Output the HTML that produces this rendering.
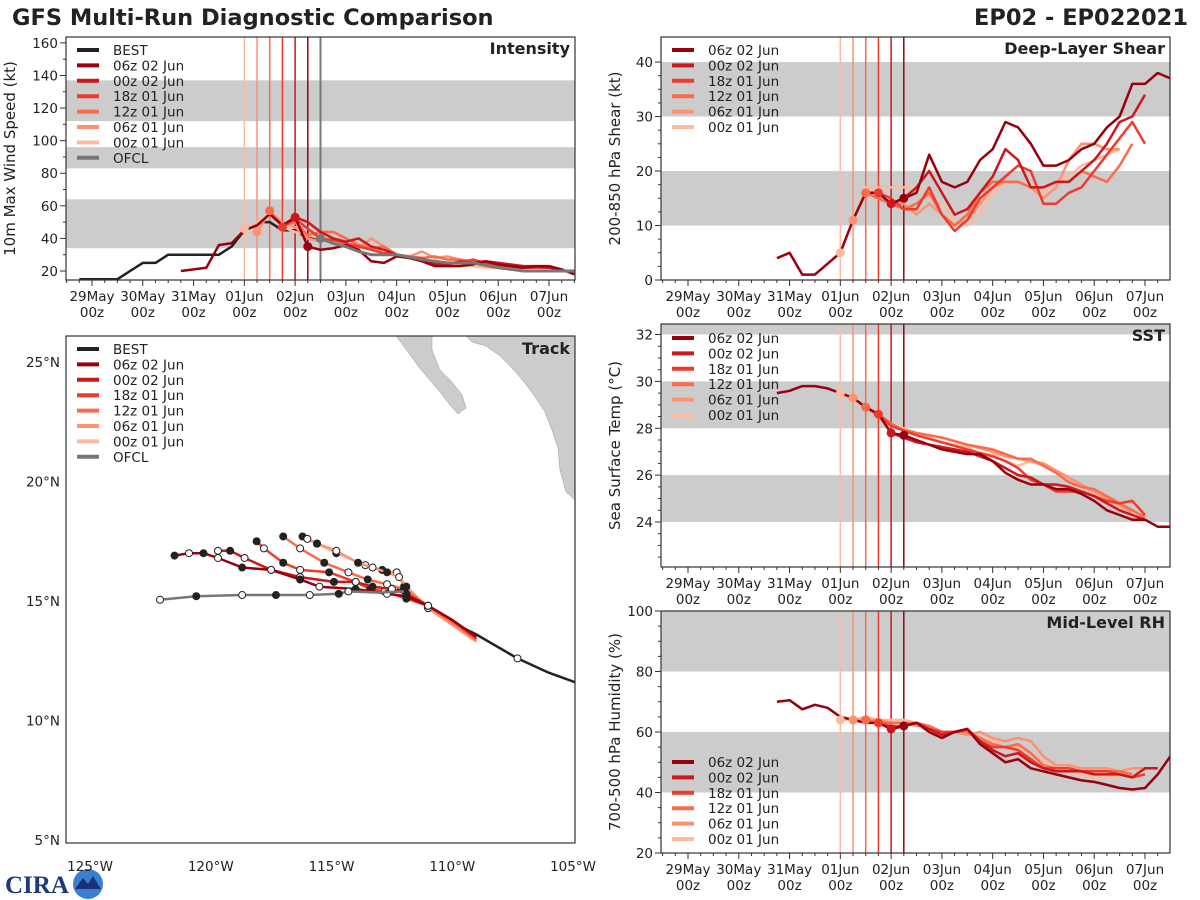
<!DOCTYPE html>
<html><head><meta charset="utf-8">
<style>
html,body{margin:0;padding:0;background:#fff;}
svg{display:block;font-family:"DejaVu Sans","Liberation Sans",sans-serif;}
</style></head>
<body>
<svg id="fig" width="1200" height="900" viewBox="0 0 1200 900" xmlns="http://www.w3.org/2000/svg">
<text x="12" y="25" font-size="22.5" font-weight="bold" fill="#222">GFS Multi-Run Diagnostic Comparison</text>
<text x="1188" y="25" font-size="22.5" font-weight="bold" fill="#222" text-anchor="end">EP02 - EP022021</text>
<g>
<text x="5" y="893" font-size="25" font-weight="bold" fill="#1c3a7a" font-family="Liberation Serif, serif">CIRA</text>
<circle cx="88" cy="884" r="15" fill="#3a7fd0"/>
<path d="M75 889 L83 878 L88 884 L93 876 L101 889 Z" fill="#1c2f7a"/>
</g>
</svg>
<script>
const runNames = ["06z 02 Jun","00z 02 Jun","18z 01 Jun","12z 01 Jun","06z 01 Jun","00z 01 Jun"];
const runColors = ["#99000d","#cb181d","#ef3b2c","#fb6a4a","#fc9272","#fcbba1"];
const runInitHours = [102,96,90,84,78,72];
const ofclInitHour = 108;
const dayLabels = ["29May","30May","31May","01Jun","02Jun","03Jun","04Jun","05Jun","06Jun","07Jun"];

const intBest = [[-6,15],[0,15],[6,15],[12,15],[18,20],[24,25],[30,25],[36,30],[42,30],[48,30],[54,30],[60,30],[66,35],[72,45],[78,50],[84,50],[90,45],[96,45],[102,40],[108,40]];
const intOfcl = [[108,40],[114,37],[120,35],[126,32],[132,30],[144,30],[156,27],[168,25],[180,25],[192,22],[204,20],[216,20],[228,20]];
const intRun0 = [[42,20],[54,22],[60,36],[66,37],[72,45],[78,48],[84,55],[90,48],[96,53],[102,35],[108,33],[114,34],[120,36],[126,33],[132,26],[138,25],[144,29],[150,28],[156,26],[162,23],[168,23],[174,23],[180,24],[186,26],[192,24],[198,23],[204,22],[210,23],[216,23],[222,21],[228,18]];
const intRun1 = [[96,53],[102,50],[108,44],[114,40],[120,38],[126,40],[132,35],[138,33],[144,30],[150,28],[156,27],[162,24],[168,24],[174,26],[180,25],[186,26],[192,25],[198,24],[204,23],[210,23],[216,22],[222,21]];
const intRun2 = [[90,47],[96,52],[102,46],[108,40],[114,39],[120,37],[126,35],[132,33],[138,31],[144,30],[150,28],[156,28],[162,25],[168,25],[174,25],[180,27],[186,25],[192,24],[198,23],[204,22],[210,22],[216,22]];
const intRun3 = [[84,57],[90,48],[96,50],[102,42],[108,44],[114,44],[120,40],[126,36],[132,34],[138,35],[144,30],[150,29],[156,28],[162,29],[168,27],[174,27],[180,26],[186,24],[192,23],[198,23],[204,22],[210,22]];
const intRun4 = [[78,44],[84,56],[90,50],[96,47],[102,40],[108,38],[114,40],[120,37],[126,34],[132,40],[138,35],[144,30],[150,29],[156,32],[162,28],[168,29],[174,27],[180,25],[186,24],[192,24],[198,22],[204,21]];
const intRun5 = [[72,46],[78,50],[84,55],[90,47],[96,44],[102,42],[108,40],[114,38],[120,37],[126,36],[132,33],[138,31],[144,30],[150,28],[156,26],[162,26],[168,24],[174,24],[180,23],[186,22],[192,22],[198,22]];

const shrRun0 = [[42,4],[48,5],[54,1],[60,1],[66,3],[72,5],[78,11],[84,16],[90,16],[96,14],[102,15],[108,16],[114,23],[120,18],[126,17],[132,18],[138,22],[144,24],[150,29],[156,28],[162,25],[168,21],[174,21],[180,22],[186,24],[192,25],[198,28],[204,30],[210,36],[216,36],[222,38],[228,37]];
const shrRun1 = [[96,14],[102,15],[108,17],[114,20],[120,16],[126,12],[132,13],[138,16],[144,19],[150,24],[156,22],[162,17],[168,17],[174,18],[180,18],[186,20],[192,22],[198,25],[204,29],[210,30],[216,34]];
const shrRun2 = [[90,16],[96,15],[102,13],[108,13],[114,17],[120,12],[126,9],[132,11],[138,15],[144,17],[150,19],[156,21],[162,20],[168,14],[174,14],[180,16],[186,17],[192,20],[198,23],[204,26],[210,29],[216,25]];
const shrRun3 = [[84,16],[90,15],[96,14],[102,13],[108,14],[114,16],[120,12],[126,10],[132,12],[138,16],[144,18],[150,18],[156,18],[162,17],[168,17],[174,18],[180,18],[186,20],[192,19],[198,18],[204,21],[210,25]];
const shrRun4 = [[78,11],[84,16],[90,15],[96,14],[102,14],[108,12],[114,14],[120,12],[126,10],[132,11],[138,14],[144,17],[150,18],[156,18],[162,17],[168,15],[174,17],[180,22],[186,25],[192,25],[198,24],[204,24]];
const shrRun5 = [[72,5],[78,11],[84,17],[90,17],[96,17],[102,17],[108,17],[114,15],[120,14],[126,11],[132,10],[138,12],[144,16],[150,18],[156,18],[162,17],[168,16],[174,18],[180,19],[186,21],[192,22],[198,23],[204,24]];

const sstRun0 = [[42,29.5],[48,29.6],[54,29.8],[60,29.8],[66,29.7],[72,29.5],[78,29.3],[84,28.9],[90,28.6],[96,27.8],[102,27.7],[108,27.5],[120,27.1],[132,26.9],[138,26.9],[144,26.6],[150,26.1],[156,25.8],[162,25.6],[168,25.6],[174,25.4],[180,25.4],[186,25.2],[192,24.9],[198,24.5],[204,24.3],[210,24.1],[216,24.1],[222,23.8],[228,23.8]];
const sstRun1 = [[96,27.8],[102,27.6],[108,27.4],[120,27.2],[132,27.0],[144,26.6],[150,26.3],[156,26.0],[162,25.9],[168,25.6],[174,25.6],[180,25.5],[186,25.3],[192,25.1],[198,24.8],[204,24.5],[210,24.3],[216,24.1]];
const sstRun2 = [[90,28.6],[96,28.1],[102,27.9],[108,27.7],[120,27.4],[132,27.1],[144,26.8],[150,26.6],[156,26.3],[162,25.8],[168,25.6],[174,25.3],[180,25.3],[186,25.3],[192,25.1],[198,24.9],[204,24.8],[210,24.9],[216,24.3]];
const sstRun3 = [[84,28.9],[90,28.6],[96,28.2],[102,27.9],[108,27.8],[120,27.6],[132,27.3],[144,27.1],[150,26.9],[156,26.7],[162,26.7],[168,26.4],[174,26.1],[180,25.7],[186,25.5],[192,25.4],[198,25.1],[204,24.8],[210,24.5],[216,24.2]];
const sstRun4 = [[78,29.3],[84,28.9],[90,28.5],[96,28.1],[108,27.8],[120,27.6],[132,27.3],[144,27.0],[150,26.8],[156,26.7],[162,26.6],[168,26.5],[174,26.2],[180,25.9],[186,25.6],[192,25.3],[198,25.0],[204,24.7],[210,24.4]];
const sstRun5 = [[72,29.5],[78,29.3],[84,28.9],[90,28.5],[96,28.2],[108,27.8],[120,27.4],[132,27.2],[138,26.9],[144,26.9],[150,26.6],[156,26.4],[162,26.6],[168,26.4],[174,26.1],[180,25.8],[186,25.5],[192,25.2],[198,24.9],[204,24.7]];

const rhRun0 = [[42,70],[48,70.5],[54,67.5],[60,69],[66,68],[72,65],[78,64],[84,63],[90,63],[96,61],[102,62],[108,63],[114,60],[120,58],[126,60],[132,61],[138,56],[144,53],[150,50],[156,51],[162,48],[168,47],[174,46],[180,45],[186,44],[192,43.5],[198,42.5],[204,41.5],[210,41],[216,41.5],[222,46],[228,52]];
const rhRun1 = [[96,61],[102,62],[108,63],[114,61],[120,59],[126,60],[132,61],[138,57],[144,54],[150,52],[156,53],[162,50],[168,48],[174,47],[180,47],[186,47],[192,46],[198,46],[204,46],[210,45],[216,48],[222,48]];
const rhRun2 = [[90,63],[96,62],[102,62],[108,63],[114,61],[120,60],[126,60],[132,61],[138,57],[144,55],[150,55],[156,54],[162,51],[168,48],[174,48],[180,48],[186,47],[192,47],[198,47],[204,46],[210,45],[216,46]];
const rhRun3 = [[84,64],[90,63],[96,63],[102,63],[108,63],[114,62],[120,60],[126,60],[132,60],[138,58],[144,56],[150,55],[156,56],[162,53],[168,49],[174,48],[180,48],[186,47],[192,47],[198,47],[204,47],[210,46]];
const rhRun4 = [[78,64],[84,64],[90,64],[96,63],[102,63],[108,62],[114,62],[120,60],[126,60],[132,59],[138,60],[144,58],[150,57],[156,58],[162,57],[168,52],[174,49],[180,49],[186,48],[192,48],[198,48],[204,47],[210,48],[216,48]];
const rhRun5 = [[72,64],[78,64],[84,65],[90,64],[96,64],[102,64],[108,63],[114,62],[120,60],[126,60],[132,60],[138,58],[144,57],[150,55],[156,55],[162,53],[168,50],[174,48],[180,47],[186,46],[192,45],[198,45],[204,45]];

const trkBest = [[-112.3,15.5],[-111.8,15.2],[-111.2,14.9],[-110.5,14.5],[-110.0,14.1],[-109.0,13.6],[-107.3,12.6],[-106.0,12.0],[-104.9,11.6]];
const trkOfcl = [[-112.0,15.4],[-113.0,15.35],[-114.3,15.4],[-114.7,15.3],[-115.9,15.25],[-117.3,15.25],[-118.7,15.25],[-120.6,15.2],[-122.1,15.05]];
const trkRun0 = [[-109.0,13.5],[-110.0,14.2],[-111.0,14.8],[-111.9,15.2],[-112.7,15.3],[-114.0,15.5],[-115.5,15.6],[-116.3,15.9],[-117.5,16.3],[-118.7,16.4],[-119.7,16.8],[-120.3,17.0],[-120.9,17.0],[-121.5,16.9]];
const trkRun1 = [[-109.0,13.5],[-110.0,14.2],[-111.0,14.8],[-111.9,15.3],[-112.5,15.5],[-113.3,15.6],[-114.0,15.8],[-114.9,15.8],[-116.3,16.0],[-117.5,16.3],[-118.6,16.8],[-119.2,17.1],[-119.7,17.1]];
const trkRun2 = [[-109.0,13.4],[-110.0,14.2],[-111.0,14.8],[-111.9,15.1],[-112.8,15.4],[-113.4,15.5],[-114.0,15.8],[-115.1,16.2],[-116.3,16.3],[-117.0,16.6],[-117.8,17.2],[-118.1,17.5]];
const trkRun3 = [[-109.0,13.4],[-110.0,14.1],[-111.0,14.8],[-112.0,15.5],[-112.7,15.7],[-113.5,15.9],[-114.3,16.2],[-115.3,16.6],[-116.3,17.2],[-117.0,17.7]];
const trkRun4 = [[-109.0,13.3],[-110.0,14.0],[-111.0,14.7],[-111.9,15.6],[-112.2,16.0],[-112.7,16.2],[-113.3,16.4],[-113.9,16.6],[-114.8,17.1],[-115.6,17.4],[-116.0,17.6]];
const trkRun5 = [[-109.0,13.3],[-110.0,14.0],[-111.0,14.7],[-112.0,15.6],[-112.3,16.2],[-112.9,16.3],[-113.6,16.5],[-114.8,17.0],[-115.6,17.4],[-116.2,17.7]];

const NS = "http://www.w3.org/2000/svg";
const svg = document.getElementById("fig");
function mk(tag, attrs, parent){
  const e = document.createElementNS(NS, tag);
  for (const k in attrs) e.setAttribute(k, attrs[k]);
  (parent||svg).appendChild(e);
  return e;
}
function txt(str, x, y, size, anchor, parent, extra){
  const t = mk("text", Object.assign({x:x, y:y, "font-size":size, "text-anchor":anchor||"start", fill:"#222"}, extra||{}), parent);
  t.textContent = str;
  return t;
}

function makePanel(cfg){
  const g = mk("g", {});
  
  
  const xs = h => cfg.x0 + h * 457 / 216;
  const ys = v => cfg.B - (v - cfg.ymin) / (cfg.ymax - cfg.ymin) * (cfg.B - cfg.T);
  const clip = mk("clipPath", {id: cfg.name + "-clip"}, g);
  mk("rect", {x:cfg.L, y:cfg.T, width:cfg.R-cfg.L, height:cfg.B-cfg.T}, clip);
  const plot = mk("g", {"clip-path": "url(#" + cfg.name + "-clip)"}, g);
  cfg.bands.forEach(b => {
    const r = mk("rect", {x:cfg.L, y:ys(b[1]), width:cfg.R-cfg.L, height:ys(b[0])-ys(b[1]), fill:"#cccccc"}, plot);
    
    
  });
  runInitHours.forEach((h, i) => {
    const l = mk("line", {x1:xs(h), x2:xs(h), y1:cfg.T, y2:cfg.B, stroke:runColors[i], "stroke-width":1.5}, plot);
    
    
  });
  if (cfg.ofcl) {
    const l = mk("line", {x1:xs(ofclInitHour), x2:xs(ofclInitHour), y1:cfg.T, y2:cfg.B, stroke:"#777", "stroke-width":2}, plot);
    
    
  }
  const drawLine = (data, color, w, nm) => {
    const p = mk("polyline", {points: data.map(d => xs(d[0]).toFixed(1) + "," + ys(d[1]).toFixed(1)).join(" "), fill:"none", stroke:color, "stroke-width":w, "stroke-linejoin":"round"}, plot);
    
    
  };
  if (cfg.best) drawLine(cfg.best, "#222", 2.5, "best-line");
  for (let i = cfg.runs.length - 1; i >= 0; i--) drawLine(cfg.runs[i], runColors[i], 2.5, "run-line");
  if (cfg.ofcl) drawLine(cfg.ofcl, "#777", 3, "ofcl-line");
  for (let i = cfg.runs.length - 1; i >= 0; i--) {
    const h = runInitHours[i];
    const pt = cfg.runs[i].find(d => d[0] === h);
    if (pt) {
      const c = mk("circle", {cx:xs(pt[0]), cy:ys(pt[1]), r:4.5, fill:runColors[i]}, plot);
      
      
    }
  }
  if (cfg.ofcl) {
    const c = mk("circle", {cx:xs(cfg.ofcl[0][0]), cy:ys(cfg.ofcl[0][1]), r:4.5, fill:"#777"}, plot);
    
    
  }
  const fr = mk("rect", {x:cfg.L, y:cfg.T, width:cfg.R-cfg.L, height:cfg.B-cfg.T, fill:"none", stroke:"#333", "stroke-width":1.2}, g);
  
  
  const xa = mk("g", {}, g);
  
  
  for (let h = -12; h <= 240; h += 6) {
    const x = xs(h);
    if (x < cfg.L || x > cfg.R) continue;
    const major = h % 24 === 0;
    mk("line", {x1:x, x2:x, y1:cfg.B, y2:cfg.B + (major ? 6 : 3), stroke:"#333", "stroke-width":1}, xa);
  }
  dayLabels.forEach((lab, d) => {
    const x = xs(d * 24);
    const t1 = txt(lab, x, cfg.B + 21, 13.5, "middle", xa);
    
    
    const t2 = txt("00z", x, cfg.B + 37, 13.5, "middle", xa);
    
    
  });
  const ya = mk("g", {}, g);
  
  
  for (let v = cfg.ymin0; v <= cfg.ymax0 + 1e-9; v += cfg.ystep / cfg.yminor) {
    const y = ys(v);
    if (y < cfg.T - 0.5 || y > cfg.B + 0.5) continue;
    const k = Math.round((v - cfg.ymin0) / (cfg.ystep / cfg.yminor));
    const major = k % cfg.yminor === 0;
    mk("line", {x1:cfg.L - (major ? 6 : 3), x2:cfg.L, y1:y, y2:y, stroke:"#333", "stroke-width":1}, ya);
    if (major) {
      const t = txt(String(Math.round(v)), cfg.L - 8, y + 5, 13.5, "end", ya);
      
      
    }
  }
  const yl = txt(cfg.ylabel, 0, 0, 15, "middle", g, {transform: "translate(" + cfg.ylx + "," + ((cfg.T + cfg.B) / 2) + ") rotate(-90)"});
  
  
  const tt = txt(cfg.title, cfg.R - 5, cfg.T + 17, 16, "end", g, {"font-weight":"bold"});
  
  
  const lg = mk("g", {}, g);
  
  
  const entries = [];
  if (cfg.best) entries.push(["BEST", "#222"]);
  runNames.forEach((n, i) => entries.push([n, runColors[i]]));
  if (cfg.ofcl) entries.push(["OFCL", "#777"]);
  entries.forEach((e, i) => {
    const y = cfg.legY + i * 15.4;
    mk("line", {x1:cfg.L + 11, x2:cfg.L + 33, y1:y, y2:y, stroke:e[1], "stroke-width":4}, lg);
    const t = txt(e[0], cfg.L + 47, y + 5, 13.5, "start", lg);
    
    
  });
}

makePanel({name:"intensity-panel", L:66, R:575, T:37, B:280, x0:92, ymin:14.5, ymax:163.6, ymin0:20, ymax0:160, ystep:20, yminor:2,
  bands:[[34,64],[83,96],[112,137]], best:intBest, ofcl:intOfcl, runs:[intRun0,intRun1,intRun2,intRun3,intRun4,intRun5],
  ylabel:"10m Max Wind Speed (kt)", ylx:15, title:"Intensity", legY:50});
makePanel({name:"shear-panel", L:661, R:1170, T:37, B:280, x0:688, ymin:0, ymax:44.6, ymin0:0, ymax0:40, ystep:10, yminor:4,
  bands:[[10,20],[30,40]], runs:[shrRun0,shrRun1,shrRun2,shrRun3,shrRun4,shrRun5],
  ylabel:"200-850 hPa Shear (kt)", ylx:620, title:"Deep-Layer Shear", legY:50});
makePanel({name:"sst-panel", L:661, R:1170, T:324, B:567, x0:688, ymin:22.08, ymax:32.45, ymin0:22, ymax0:32, ystep:2, yminor:4,
  bands:[[24,26],[28,30],[32,34]], runs:[sstRun0,sstRun1,sstRun2,sstRun3,sstRun4,sstRun5],
  ylabel:"Sea Surface Temp (°C)", ylx:620, title:"SST", legY:338});
makePanel({name:"rh-panel", L:661, R:1170, T:611, B:853, x0:688, ymin:20, ymax:100, ymin0:20, ymax0:100, ystep:20, yminor:4,
  bands:[[40,60],[80,100]], runs:[rhRun0,rhRun1,rhRun2,rhRun3,rhRun4,rhRun5],
  ylabel:"700-500 hPa Humidity (%)", ylx:620, title:"Mid-Level RH", legY:762});

(function(){
  const L=66, R=575, T=336, B=843;
  const g = mk("g", {});
  
  
  const xs = lon => 90 + (lon + 125) * 24.15;
  const ys = lat => 362 + (25 - lat) * 23.9;
  const clip = mk("clipPath", {id:"map-clip"}, g);
  mk("rect", {x:L, y:T, width:R-L, height:B-T}, clip);
  const plot = mk("g", {"clip-path":"url(#map-clip)"}, g);
  const baja = mk("path", {d:"M396 336 L432 336 L432 350 L440 370 L452 382 L462 395 L466 408 L458 414 L450 405 L440 392 L428 378 L418 366 L408 352 Z", fill:"#cccccc", stroke:"#999", "stroke-width":0.5}, plot);
  
  
  const mex = mk("path", {d:"M466 336 L575 336 L575 500 L566 492 L560 470 L558 448 L552 430 L545 412 L536 398 L524 382 L512 368 L500 356 L486 346 L472 342 Z", fill:"#cccccc", stroke:"#999", "stroke-width":0.5}, plot);
  
  
  const drawTrack = (data, color, w, nm, markers) => {
    const p = mk("polyline", {points:data.map(d => xs(d[0]).toFixed(1) + "," + ys(d[1]).toFixed(1)).join(" "), fill:"none", stroke:color, "stroke-width":w, "stroke-linejoin":"round"}, plot);
    
    
    if (markers) data.forEach((d, i) => {
      if (i < 2) return;
      const c = mk("circle", {cx:xs(d[0]), cy:ys(d[1]), r:3.5, fill: i % 2 ? "#222" : "#fff", stroke:"#222", "stroke-width":1}, plot);
      
      
    });
  };
  drawTrack(trkBest, "#222", 2.5, "best-track", false);
  const c1 = mk("circle", {cx:xs(trkBest[6][0]), cy:ys(trkBest[6][1]), r:3.5, fill:"#fff", stroke:"#222"}, plot);
  
  
  const runs = [trkRun0,trkRun1,trkRun2,trkRun3,trkRun4,trkRun5];
  for (let i = runs.length - 1; i >= 0; i--) drawTrack(runs[i], runColors[i], 2.5, "run-track", true);
  drawTrack(trkOfcl, "#777", 2.5, "ofcl-track", true);
  const fr = mk("rect", {x:L, y:T, width:R-L, height:B-T, fill:"none", stroke:"#333", "stroke-width":1.2}, g);
  
  
  [25,20,15,10,5].forEach(lat => {
    const t = txt(lat + "°N", 60, ys(lat) + 5, 13.5, "end", g);
    
    
  });
  [-125,-120,-115,-110,-105].forEach(lon => {
    const t = txt((-lon) + "°W", xs(lon), 871, 13.5, "middle", g);
    
    
  });
  const tt = txt("Track", R - 5, T + 18, 16, "end", g, {"font-weight":"bold"});
  
  
  const lg = mk("g", {}, g);
  
  
  const entries = [["BEST","#222"]].concat(runNames.map((n,i)=>[n,runColors[i]])).concat([["OFCL","#777"]]);
  entries.forEach((e, i) => {
    const y = 349 + i * 15.4;
    mk("line", {x1:L + 11, x2:L + 33, y1:y, y2:y, stroke:e[1], "stroke-width":4}, lg);
    const t = txt(e[0], L + 47, y + 5, 13.5, "start", lg);
    
    
  });
})();
</script>
</body></html>
